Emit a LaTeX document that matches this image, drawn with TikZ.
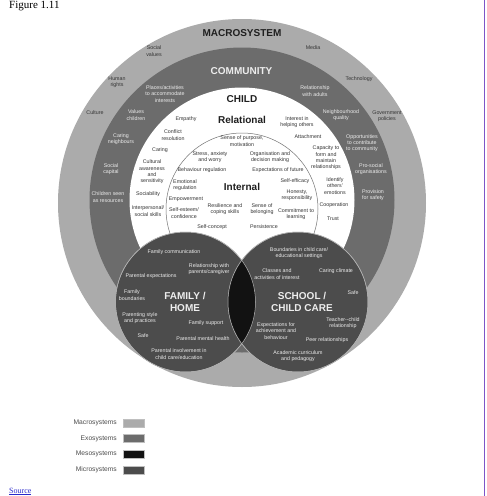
\documentclass[tikz,border=0pt]{standalone}
\usepackage{fontspec}
\setmainfont{Liberation Serif}
\newfontfamily\lsans{Liberation Sans}
\definecolor{macroc}{HTML}{ABABAB}
\definecolor{exoc}{HTML}{6C6C6C}
\definecolor{microc}{HTML}{4C4C4C}
\definecolor{mesoc}{HTML}{121212}
\definecolor{purplec}{HTML}{7D55C7}
\definecolor{linkc}{HTML}{2A2ACC}
\tikzset{
  lbl/.style={font=\lsans\fontsize{5.3}{6.3}\selectfont, align=center, inner sep=0pt},
  dk/.style={lbl, text=black!80},
  wt/.style={lbl, text=white!93!black},
  ttl/.style={font=\lsans\bfseries\fontsize{10}{11.7}\selectfont, align=center, inner sep=0pt},
  ttldk/.style={ttl, text=black!88},
  ttlwt/.style={ttl, text=white!93!black},
  legl/.style={font=\lsans\fontsize{6.7}{8}\selectfont, text=black!70, anchor=east, inner sep=0pt},
  swatch/.style={draw=black!25, line width=0.3pt, minimum width=21pt, minimum height=8pt, inner sep=0pt},
  lowring/.style={draw=black!30, line width=0.5pt},
}
\begin{document}
\begin{tikzpicture}[x=1pt,y=-1pt]
\useasboundingbox (0,0) rectangle (487,496);
\fill[white] (0,0) rectangle (487,496);
% circles
\fill[macroc] (242,203) circle[radius=184pt];
\fill[exoc] (242,200) circle[radius=152.5pt];
\fill[white] (242,200) circle[radius=112.5pt];
\draw[black!55, line width=0.5pt] (242,209) circle[radius=76pt];
\filldraw[microc, lowring] (185.5,302) circle[radius=70pt];
\filldraw[microc, lowring] (298,302) circle[radius=70pt];
\begin{scope}
  \clip (185.5,302) circle[radius=70pt];
  \fill[mesoc] (298,302) circle[radius=70pt];
\end{scope}
\draw[lowring] (185.5,302) circle[radius=70pt];
\draw[lowring] (298,302) circle[radius=70pt];
% purple rule
\draw[purplec, line width=1pt] (484.5,0) -- (484.5,496);

% titles
\node[ttldk] (tmacro) at (242,33) {MACROSYSTEM};
\node[ttlwt] (tcomm) at (241.5,71) {COMMUNITY};
\node[ttldk] (tchild) at (242,99) {CHILD};
\node[ttldk] (trel) at (242,120) {Relational};
\node[ttldk] (tint) at (242,187) {Internal};
\node[ttlwt] (tfam) at (185,302) {FAMILY /\\HOME};
\node[ttlwt] (tsch) at (302,302) {SCHOOL /\\CHILD CARE};

% macrosystem labels
\node[dk] (m1) at (154,51) {Social\\values};
\node[dk] (m2) at (313,48) {Media};
\node[dk] (m3) at (117,82) {Human\\rights};
\node[dk] (m4) at (359,79.5) {Technology};
\node[dk] (m5) at (95,113) {Culture};
\node[dk] (m6) at (387,116) {Government\\policies};

% community labels
\node[wt] (c1) at (165,94) {Places/activities\\to accommodate\\interests};
\node[wt] (c2) at (315,91) {Relationship\\with adults};
\node[wt] (c3) at (136,115) {Values\\children};
\node[wt] (c4) at (341,115) {Neighbourhood\\quality};
\node[wt] (c5) at (121,139) {Caring\\neighbours};
\node[wt] (c6) at (362,143) {Opportunities\\to contribute\\to community};
\node[wt] (c7) at (111,169) {Social\\capital};
\node[wt] (c8) at (371,169) {Pro-social\\organisations};
\node[wt] (c9) at (108,197) {Children seen\\as resources};
\node[wt] (c10) at (373,195) {Provision\\for safety};

% relational labels
\node[dk] (r1) at (186,119) {Empathy};
\node[dk] (r2) at (297,122) {Interest in\\helping others};
\node[dk] (r3) at (173,135) {Conflict\\resolution};
\node[dk] (r4) at (308,137) {Attachment};
\node[dk] (r5) at (160,150) {Caring};
\node[dk] (r6) at (326,158) {Capacity to\\form and\\maintain\\relationships};
\node[dk] (r7) at (152,172) {Cultural\\awareness\\and\\sensitivity};
\node[dk] (r8) at (335,186) {Identify\\others'\\emotions};
\node[dk] (r9) at (148,194) {Sociability};
\node[dk] (r10) at (334,205) {Cooperation};
\node[dk] (r11) at (148,211) {Interpersonal/\\social skills};
\node[dk] (r12) at (333,219) {Trust};

% internal labels
\node[dk] (i1) at (242,141) {Sense of purpose,\\motivation};
\node[dk] (i2) at (210,157) {Stress, anxiety\\and worry};
\node[dk] (i3) at (270,157) {Organisation and\\decision making};
\node[dk] (i4) at (202,170) {Behaviour regulation};
\node[dk] (i5) at (278,170) {Expectations of future};
\node[dk] (i6) at (185,185) {Emotional\\regulation};
\node[dk] (i7) at (295,181) {Self-efficacy};
\node[dk] (i8) at (297,195) {Honesty,\\responsibility};
\node[dk] (i9) at (186,199) {Empowerment};
\node[dk] (i10) at (225,209) {Resilience and\\coping skills};
\node[dk] (i11) at (262,209) {Sense of\\belonging};
\node[dk] (i12) at (184,213) {Self-esteem/\\confidence};
\node[dk] (i13) at (296,214) {Commitment to\\learning};
\node[dk] (i14) at (212,227) {Self-concept};
\node[dk] (i15) at (264,227) {Persistence};

% family labels
\node[wt] (f1) at (174,252) {Family communication};
\node[wt] (f2) at (209,269) {Relationship with\\parents/caregiver};
\node[wt] (f3) at (151,276) {Parental expectations};
\node[wt] (f4) at (132,295) {Family\\boundaries};
\node[wt] (f5) at (140,318) {Parenting style\\and practices};
\node[wt] (f6) at (206,323) {Family support};
\node[wt] (f7) at (143,336) {Safe};
\node[wt] (f8) at (203,339) {Parental mental health};
\node[wt] (f9) at (179,354) {Parental involvement in\\child care/education};

% school labels
\node[wt] (s1) at (299,253) {Boundaries in child care/\\educational settings};
\node[wt] (s2) at (277,274) {Classes and\\activities of interest};
\node[wt] (s3) at (336,271) {Caring climate};
\node[wt] (s4) at (353,293) {Safe};
\node[wt] (s5) at (343,323) {Teacher--child\\relationship};
\node[wt] (s6) at (276,331) {Expectations for\\achievement and\\behaviour};
\node[wt] (s7) at (327,340) {Peer relationships};
\node[wt] (s8) at (298,356) {Academic curriculum\\and pedagogy};

% legend
\node[legl] (l1) at (117,423) {Macrosystems};
\node[legl] (l2) at (117,438.5) {Exosystems};
\node[legl] (l3) at (117,454) {Mesosystems};
\node[legl] (l4) at (117,470) {Microsystems};
\node[swatch, fill=macroc] (w1) at (133.5,423) {};
\node[swatch, fill=exoc] (w2) at (133.5,438.5) {};
\node[swatch, fill=mesoc] (w3) at (133.5,454) {};
\node[swatch, fill=microc] (w4) at (133.5,470) {};

% captions
\node[anchor=base west, inner sep=0pt, font=\fontsize{11}{13}\selectfont] (fig) at (9,8.5) {Figure 1.11};
\node[anchor=base west, inner sep=0pt, font=\fontsize{8}{9}\selectfont, text=linkc] (src) at (9,493) {\underline{Source}};
\end{tikzpicture}
\end{document}
